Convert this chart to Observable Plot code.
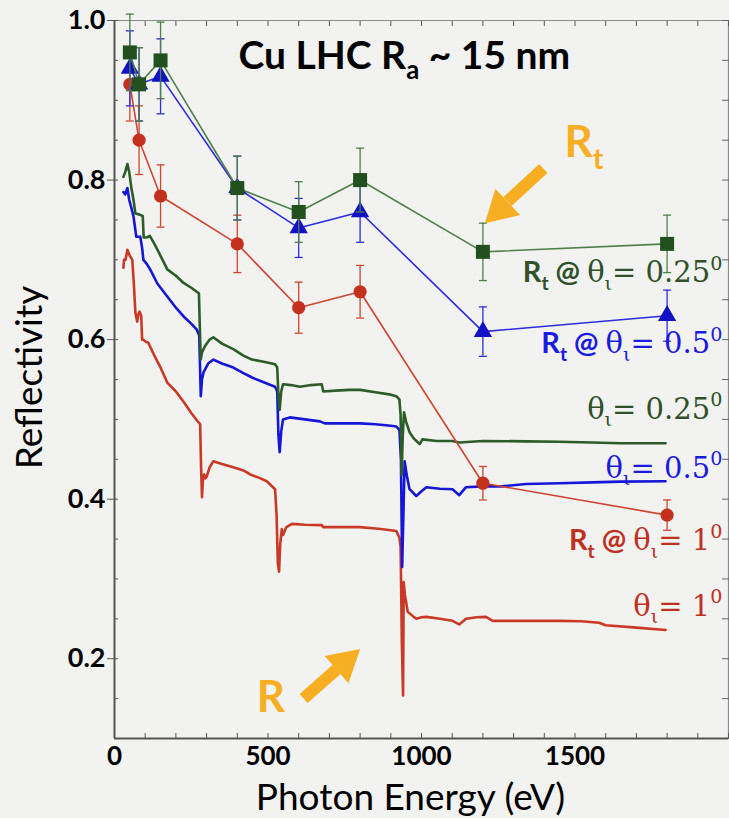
<!DOCTYPE html>
<html><head><meta charset="utf-8">
<script src="https://cdn.jsdelivr.net/npm/d3@7"></script>
<script src="https://cdn.jsdelivr.net/npm/@observablehq/plot@0.6"></script>
<style>
html,body{margin:0;padding:0;background:#f2f2f0;}
#chart svg{display:block;background:#f2f2f0;}
</style></head><body><div id="chart"></div>
<script>
// ---------- data ----------
const rtEnergy = [50, 80, 150, 400, 600, 800, 1200, 1800];
const rt025 = [0.96, 0.92, 0.95, 0.79, 0.76, 0.80, 0.71, 0.72];
const rt025Err = [0.048, 0.046, 0.048, 0.040, 0.038, 0.040, 0.036, 0.036];
const rt05 = [0.94, 0.92, 0.93, 0.79, 0.74, 0.76, 0.61, 0.63];
const rt05Err = [0.047, 0.046, 0.047, 0.040, 0.037, 0.038, 0.031, 0.032];
const rt1 = [0.92, 0.85, 0.78, 0.72, 0.64, 0.66, 0.42, 0.38];
const rt1Err = [0.046, 0.043, 0.039, 0.036, 0.032, 0.033, 0.021, 0.019];

const specE025 = [29,35,42,48,55,62,68,80,92,95,105,115,130,150,172,200,225,250,268,275,279,281,285,295,310,322,350,387,420,448,490,523,530,534,538,543,549,575,604,640,675,680,720,766,800,850,900,918,928,932,935,939,943,950,961,975,994,1003,1050,1100,1123,1200,1340,1450,1555,1650,1795];
const spec025 = [0.804,0.81,0.82,0.81,0.79,0.775,0.758,0.757,0.755,0.728,0.728,0.73,0.72,0.705,0.688,0.68,0.671,0.665,0.66,0.658,0.6,0.575,0.584,0.592,0.6,0.603,0.595,0.588,0.58,0.575,0.572,0.569,0.565,0.53,0.512,0.535,0.544,0.543,0.541,0.543,0.544,0.535,0.536,0.537,0.537,0.534,0.531,0.529,0.525,0.505,0.43,0.48,0.509,0.497,0.484,0.476,0.469,0.475,0.473,0.473,0.471,0.473,0.4725,0.472,0.471,0.47,0.47];

const specE05 = [29,35,42,48,55,62,71,84,90,94,105,117,140,172,200,225,250,268,276,279,281,285,290,305,322,350,387,420,448,490,523,530,534,538,543,549,571,620,669,685,750,799,850,900,918,928,933,937,941,945,952,961,983,1000,1016,1060,1101,1123,1145,1200,1260,1340,1450,1555,1650,1795];
const spec05 = [0.785,0.782,0.79,0.775,0.765,0.754,0.729,0.729,0.715,0.70,0.695,0.6875,0.67,0.654,0.64,0.629,0.62,0.6125,0.605,0.56,0.529,0.55,0.559,0.57,0.575,0.57,0.565,0.558,0.5525,0.546,0.541,0.535,0.48,0.459,0.485,0.50,0.5025,0.50,0.4975,0.495,0.495,0.495,0.494,0.492,0.491,0.487,0.45,0.315,0.38,0.4475,0.43,0.4125,0.404,0.41,0.415,0.413,0.4125,0.405,0.415,0.416,0.416,0.419,0.42,0.421,0.422,0.4225];

const specE1 = [29,31,36,42,50,58,63,68,74,78,82,87,90,94,101,110,130,150,172,200,225,250,270,279,282,285,289,292,296,300,310,322,350,387,420,442,470,496,523,528,532,536,540,545,549,560,578,620,675,680,750,799,860,900,918,928,932,936,940,942,946,955,970,983,1000,1016,1060,1101,1123,1145,1180,1210,1232,1300,1448,1520,1578,1600,1700,1795];
const spec1 = [0.69,0.70,0.70,0.7125,0.705,0.70,0.67,0.634,0.6225,0.632,0.635,0.63,0.60,0.60,0.5975,0.596,0.58,0.565,0.546,0.535,0.522,0.508,0.498,0.494,0.44,0.4025,0.43,0.431,0.426,0.428,0.44,0.4475,0.444,0.44,0.436,0.431,0.427,0.4225,0.4125,0.38,0.32,0.309,0.345,0.3625,0.355,0.365,0.369,0.368,0.3675,0.365,0.365,0.365,0.363,0.361,0.36,0.352,0.34,0.22,0.154,0.296,0.28,0.259,0.254,0.25,0.252,0.2525,0.25,0.2475,0.243,0.25,0.252,0.2525,0.2475,0.2475,0.2475,0.247,0.245,0.242,0.239,0.236];

const xTickLabels = [0, 500, 1000, 1500];
const yTickLabels = [0.2, 0.4, 0.6, 0.8, 1.0];
const titleText = "Cu LHC R_a ~ 15 nm";
const xLabel = "Photon Energy (eV)";
const yLabel = "Reflectivity";
const seriesLabels = ["R_t @ θ_ι= 0.25^0", "R_t @ θ_ι= 0.5^0", "θ_ι= 0.25^0", "θ_ι= 0.5^0", "R_t @ θ_ι= 1^0", "θ_ι= 1^0"];

// ---------- styles ----------
const C = {
  g: {spec: "#2c5c27", line: "#4f8049", mark: "#22501e", text: "#30502a"},
  b: {spec: "#1616d6", line: "#2c2ce0", mark: "#1212c4", text: "#1a1ae0"},
  r: {spec: "#c93a26", line: "#d0452f", mark: "#c3301e", text: "#c0301f"}
};
const orange = "#f7ae22";
const sans = "Lato, 'Open Sans', sans-serif";

// ---------- tables ----------
const mk = (E, V, key) => E.map((e, i) => ({e, r: V[i], key}));
const spectra = [mk(specE1, spec1, "r"), mk(specE05, spec05, "b"), mk(specE025, spec025, "g")];
const mkRt = (V, Err, key) => rtEnergy.map((e, i) => ({e, r: V[i], err: Err[i], key}));
const rts = [mkRt(rt1, rt1Err, "r"), mkRt(rt05, rt05Err, "b"), mkRt(rt025, rt025Err, "g")];
const symbols = {r: "circle", b: "triangle", g: "square"};
const radius = {r: 6.6, b: 6.8, g: 7.9};

const labelAnchors = [
  {y: 0.672, c: C.g.text}, {y: 0.583, c: C.b.text}, {y: 0.501, c: C.g.text},
  {y: 0.427, c: C.b.text}, {y: 0.336, c: C.r.text}, {y: 0.254, c: C.r.text}
].map((d, i) => ({...d, t: seriesLabels[i], x: 1980}));

const capSymbol = {draw(ctx, size) { const w = Math.sqrt(size / Math.PI); ctx.moveTo(-w, 0); ctx.lineTo(w, 0); }};

const xMinor = d3.range(0, 2001, 100);
const yMinor = d3.range(2, 21).map(i => +(i * 0.05).toFixed(2));

const marks = [];
// frame
marks.push(Plot.ruleY([1.0], {stroke: "#8a8a8a", strokeWidth: 1.2}));
marks.push(Plot.ruleX([2000], {stroke: "#8a8a8a", strokeWidth: 1.2}));
// axes ticks
marks.push(Plot.axisX({anchor: "top", ticks: xMinor, tickSize: -5, tickFormat: () => "", stroke: "#555"}));
marks.push(Plot.axisX({anchor: "bottom", ticks: xMinor, tickSize: -5, tickFormat: () => "", stroke: "#555"}));
marks.push(Plot.axisX({anchor: "bottom", ticks: xTickLabels, tickSize: 0, tickPadding: 8, tickFormat: d3.format("d"), fontSize: 26, fontWeight: "bold", fontFamily: sans, fill: "#000", label: null}));
marks.push(Plot.axisY({anchor: "right", ticks: yMinor, tickSize: -7, tickFormat: () => "", stroke: "#666"}));
marks.push(Plot.axisY({anchor: "left", ticks: yMinor, tickSize: -4, tickFormat: () => "", stroke: "#555"}));
marks.push(Plot.axisY({anchor: "left", ticks: yTickLabels, tickSize: 7, tickPadding: 2, tickFormat: d3.format(".1f"), fontSize: 27, fontWeight: "bold", fontFamily: sans, fill: "#000", stroke: "#555", label: null}));
marks.push(Plot.ruleX([0], {stroke: "#555", strokeWidth: 2}));
marks.push(Plot.ruleY([0.1], {stroke: "#555", strokeWidth: 2}));

// spectra
for (const s of spectra) {
  marks.push(Plot.line(s, {x: "e", y: "r", stroke: C[s[0].key].spec, strokeWidth: 2.6, strokeLinejoin: "round"}));
}
// Rt series
for (const s of rts) {
  const c = C[s[0].key];
  marks.push(Plot.line(s, {x: "e", y: "r", stroke: c.line, strokeWidth: 1.6}));
  marks.push(Plot.ruleX(s, {x: "e", y1: d => d.r - d.err, y2: d => d.r + d.err, stroke: c.line, strokeWidth: 1.3}));
  marks.push(Plot.dot(s, {x: "e", y: d => d.r + d.err, symbol: capSymbol, r: 4, stroke: c.line, fill: "none", strokeWidth: 1.3}));
  marks.push(Plot.dot(s, {x: "e", y: d => d.r - d.err, symbol: capSymbol, r: 4, stroke: c.line, fill: "none", strokeWidth: 1.3}));
  marks.push(Plot.dot(s, {x: "e", y: "r", symbol: symbols[s[0].key], r: radius[s[0].key], fill: c.mark, stroke: "none"}));
}

// arrows
const arrows = [
  {x1: 1397, y1: 0.8145, x2: 1280, y2: 0.7731, hx: 1256, hy: 0.7637, rot: 227},
  {x1: 616, y1: 0.150, x2: 724, y2: 0.1868, hx: 749, hy: 0.195, rot: 48.8}
];
marks.push(Plot.link(arrows, {x1: "x1", y1: "y1", x2: "x2", y2: "y2", stroke: orange, strokeWidth: 12}));
marks.push(Plot.dot(arrows, {x: "hx", y: "hy", symbol: "triangle", r: 13.4, rotate: "rot", fill: orange, stroke: "none"}));

// text
marks.push(Plot.text([{t: titleText, x: 944, y: 0.9398}], {x: "x", y: "y", text: "t", textAnchor: "middle", lineAnchor: "bottom", fontSize: 39, fontWeight: "bold", fontFamily: sans, fill: "#000"}));
marks.push(Plot.text([{t: "R_t", x: 1466, y: 0.8283}], {x: "x", y: "y", text: "t", textAnchor: "start", lineAnchor: "bottom", fontSize: 44, fontWeight: "bold", fontFamily: sans, fill: orange}));
marks.push(Plot.text([{t: "R", x: 463, y: 0.1326}], {x: "x", y: "y", text: "t", textAnchor: "start", lineAnchor: "bottom", fontSize: 44, fontWeight: "bold", fontFamily: sans, fill: orange}));
marks.push(Plot.text(labelAnchors, {x: "x", y: "y", text: "t", fill: "c", textAnchor: "end", lineAnchor: "bottom", fontSize: 29, fontWeight: "bold", fontFamily: sans}));
marks.push(Plot.text([xLabel], {frameAnchor: "bottom", dx: -11, dy: 71, textAnchor: "middle", lineAnchor: "bottom", fontSize: 37, fontFamily: sans, fill: "#000"}));
marks.push(Plot.text([yLabel], {frameAnchor: "left", dx: -84, dy: -2, textAnchor: "middle", rotate: -90, fontSize: 37, fontFamily: sans, fill: "#000"}));

const plot = Plot.plot({
  width: 729, height: 818,
  marginLeft: 114, marginRight: 1, marginTop: 20, marginBottom: 80,
  x: {domain: [0, 2000]},
  y: {domain: [0.1, 1.0]},
  style: {background: "#f2f2f0", color: "#000", overflow: "visible"},
  marks
});
document.getElementById("chart").appendChild(plot);

// rich text: _x subscript, ^x superscript, serif after θ
function rich(el, s) {
  const fs = parseFloat(getComputedStyle(el).fontSize);
  const tokens = [];
  let serif = false;
  for (let i = 0; i < s.length; i++) {
    let ch = s[i], mode = "n";
    if ((ch === "_" || ch === "^") && i + 1 < s.length) { mode = ch === "_" ? "sub" : "sup"; ch = s[++i]; }
    if (ch === "θ") serif = true;
    const last = tokens[tokens.length - 1];
    if (last && last.mode === "n" && mode === "n" && last.serif === serif) last.text += ch;
    else tokens.push({text: ch, mode, serif});
  }
  el.textContent = "";
  let pending = 0;
  for (const t of tokens) {
    const ts = document.createElementNS("http://www.w3.org/2000/svg", "tspan");
    let dy = pending;
    let shift = 0;
    if (t.mode === "sub") shift = 0.26 * fs;
    if (t.mode === "sup") shift = -0.42 * fs;
    dy += shift;
    pending = -shift;
    if (dy) ts.setAttribute("dy", dy);
    ts.setAttribute("font-family", t.serif ? "'DejaVu Serif', serif" : sans);
    if (t.serif) ts.setAttribute("font-weight", "normal");
    if (t.mode !== "n") ts.setAttribute("font-size", (0.66 * fs) + "px");
    ts.textContent = t.text;
    el.appendChild(ts);
  }
}
d3.select(plot).selectAll("text").each(function() {
  const s = this.textContent;
  if (/[_^]/.test(s)) rich(this, s);
});
</script></body></html>
